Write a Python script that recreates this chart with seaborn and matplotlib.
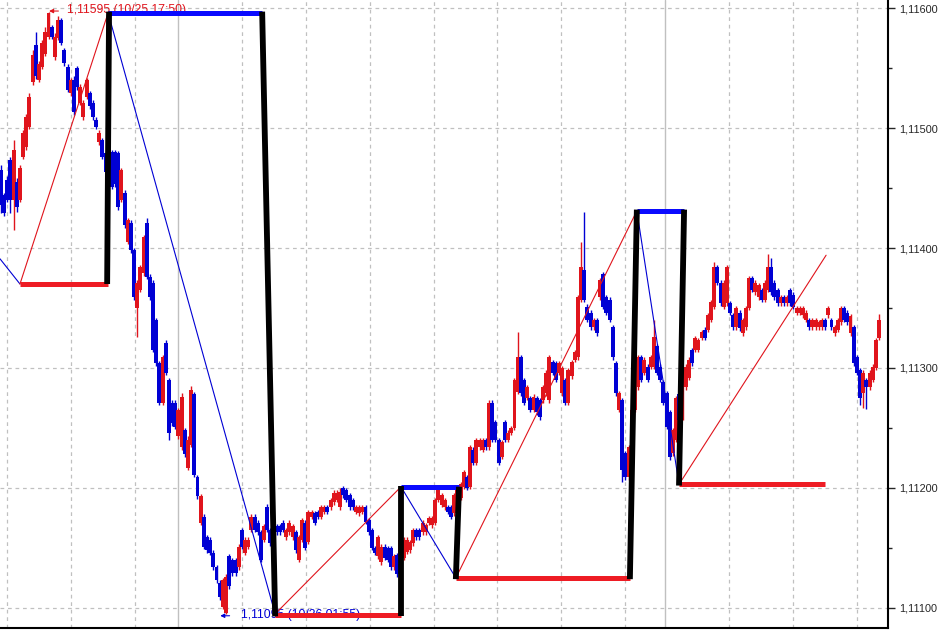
import numpy as np
import matplotlib
matplotlib.use("Agg")
import matplotlib.pyplot as plt
import seaborn as sns

sns.set_style("white")
plt.rcParams['font.family'] = ['Liberation Sans', 'DejaVu Sans']

# prices in points above 1.11000 (1 point = 0.00001)
opens = [465,444,457,473,440,455,440,476,484,501,
         538,569,540,551,562,576,584,559,575,590,
         565,551,529,540,550,521,509,526,529,521,
         507,488,490,479,457,480,480,479,440,446,
         405,421,398,350,365,379,421,376,371,340,
         304,271,321,290,271,271,243,234,248,217,
         236,278,209,171,176,159,157,146,134,121,
         101,96,143,140,140,134,165,146,151,165,
         176,171,163,157,184,165,157,168,168,171,
         159,163,159,163,140,157,171,155,176,179,
         180,176,180,184,184,188,190,184,200,198,
         194,190,180,179,180,184,173,165,150,143,
         138,151,150,150,134,144,142,142,147,148,
         154,165,165,163,163,171,169,171,190,186,
         184,184,184,179,182,192,201,209,201,232,
         221,234,232,240,234,271,255,240,226,255,
         240,246,250,280,309,290,275,275,265,275,
         273,273,279,273,305,304,296,279,290,271,
         293,307,309,357,382,351,346,334,340,359,
         378,359,357,334,304,265,273,229,209,234,
         265,284,309,296,301,301,301,318,301,288,
         279,263,229,240,278,259,284,292,315,315,
         315,325,332,332,340,351,384,371,351,354,
         354,344,334,346,329,334,350,375,363,359,
         365,357,365,384,371,365,354,359,354,365,
         361,346,346,344,340,340,334,334,334,334,
         340,344,340,329,332,338,350,346,329,334,
         309,298,279,290,284,290,300,325]
closes = [436,429,440,440,482,434,467,496,509,526,
          561,543,553,571,580,596,576,576,590,571,
          554,532,540,513,534,534,521,540,518,509,
          501,496,476,463,473,451,453,434,465,419,
          423,398,359,371,384,409,376,359,315,304,
          271,309,296,246,254,251,265,276,228,240,
          282,211,193,193,151,148,146,134,123,109,
          123,126,118,129,129,151,151,157,157,176,
          165,163,140,168,165,154,169,163,163,165,
          165,171,168,148,159,173,150,180,180,171,
          176,184,184,180,190,196,196,197,194,190,
          184,184,184,184,184,172,163,150,146,159,
          151,142,140,134,143,128,157,157,157,155,
          165,159,159,171,169,175,175,190,198,194,
          190,180,176,194,198,203,213,200,234,221,
          240,240,240,234,271,240,240,221,238,240,
          246,250,290,309,279,271,284,265,276,263,
          259,284,296,309,296,290,304,300,271,298,
          305,313,359,384,357,340,334,340,329,373,
          351,346,340,309,279,279,215,209,234,265,
          290,309,290,307,290,309,326,296,290,271,
          251,226,248,275,257,296,301,307,304,325,
          323,330,325,344,355,384,371,354,371,384,
          346,334,350,333,340,350,375,365,371,369,
          357,371,384,363,359,354,359,354,359,354,
          351,350,350,350,346,334,340,340,338,340,
          334,350,334,334,340,350,340,338,343,304,
          296,275,296,284,296,301,323,340]
highs = [469,446,460,476,490,458,469,498,512,529,
         565,580,556,573,584,597,586,579,593,592,
         567,553,542,543,552,537,523,542,531,523,
         509,498,492,481,476,482,482,481,467,448,
         425,423,400,373,386,411,425,378,373,342,
         306,311,323,292,273,273,267,279,250,243,
         285,280,211,195,178,161,159,148,136,123,
         125,128,145,142,142,153,167,159,159,178,
         178,173,165,170,187,167,171,170,170,173,
         167,173,170,165,161,175,173,182,182,181,
         182,186,186,186,192,198,198,200,202,200,
         196,192,186,186,186,186,175,167,152,161,
         153,153,152,152,145,146,159,159,159,157,
         167,167,167,173,171,177,177,192,200,196,
         192,186,186,196,200,205,215,211,236,234,
         242,242,242,242,273,273,257,242,240,257,
         248,252,292,330,311,292,286,277,278,277,
         275,286,298,311,307,306,306,302,292,300,
         307,315,361,405,430,353,348,342,342,375,
         380,361,359,336,306,281,275,231,236,267,
         292,311,311,309,303,311,340,320,303,290,
         281,265,250,277,280,298,303,309,317,327,
         325,332,334,346,357,388,386,373,373,386,
         356,346,352,348,342,352,377,377,373,371,
         367,373,395,392,373,367,361,361,361,367,
         363,352,352,352,348,342,342,342,340,342,
         342,352,342,336,342,352,352,348,345,336,
         311,300,298,292,298,303,325,345]
lows = [429,427,438,429,415,430,438,474,482,499,
        536,541,538,549,560,574,574,557,573,569,
        552,530,527,511,532,519,507,524,516,507,
        499,486,474,461,455,449,451,432,438,417,
        403,396,357,326,363,377,374,357,313,302,
        269,269,294,240,252,249,241,232,226,215,
        234,209,191,169,149,146,144,132,121,107,
        99,95,116,127,127,132,149,144,149,163,
        163,161,138,155,163,152,155,161,161,163,
        157,161,157,146,138,155,148,153,174,169,
        174,174,178,178,182,186,188,182,192,188,
        182,182,178,177,178,170,161,148,144,141,
        136,140,138,132,132,126,140,140,145,146,
        152,157,157,161,161,169,167,169,188,184,
        182,178,174,177,180,190,199,198,199,219,
        219,232,230,232,232,238,238,219,224,238,
        238,244,248,278,277,269,273,263,263,261,
        257,271,277,271,294,288,294,277,269,269,
        291,305,307,355,355,338,332,332,327,357,
        349,344,338,307,277,263,205,207,207,232,
        263,282,288,294,288,299,299,294,288,269,
        249,223,227,238,255,257,282,290,302,313,
        313,323,323,330,338,349,369,352,349,352,
        344,332,332,331,327,332,348,363,361,357,
        355,355,363,361,357,352,352,352,352,352,
        349,344,344,342,338,332,332,332,332,332,
        332,342,332,327,330,336,338,336,327,302,
        294,269,267,266,282,288,298,323]

# zigzag pivots: (bar, points)
zz_bars = [-0.3, 6.0, 33.8, 86.5, 126.2, 143.5, 200.6, 213.9, 260.3]
zz_pts = [391, 370, 596, 95, 201, 125, 431, 203, 394]

# support (red) / resistance (blue) levels: (start bar, end bar, points)
low_lines = [(6.0, 33.8, 370), (86.5, 126.2, 94), (143.5, 198.4, 125), (213.9, 260.0, 203)]
high_lines = [(33.8, 82.4, 596), (126.2, 144.5, 201), (200.6, 215.5, 431)]
# black connectors: (bar0, pts0, bar1, pts1)
connectors = [(33.5, 370, 34.1, 597), (82.4, 597, 86.5, 93), (126.2, 93, 126.2, 202),
              (144.5, 201, 143.5, 124), (198.4, 124, 200.6, 432), (215.5, 432, 213.9, 202)]

grid_bars = [1.9, 22.1, 42.3, 76.0, 96.2, 116.4, 136.6, 156.5, 176.7, 196.9, 229.7, 249.9, 270.1]
day_bars = [55.9, 209.5]
major_ticks = [1.111, 1.112, 1.113, 1.114, 1.115, 1.116]
minor_ticks = [1.1115, 1.1125, 1.1135, 1.1145, 1.1155]

RED = "#e0141c"
BLUE = "#0000d4"

def px(p):
    return 1.11 + np.asarray(p, dtype=float) / 1e5

o = px(opens)
c = px(closes)
h = px(highs)
l = px(lows)
n = len(o)
idx = np.arange(n)
up = c >= o
cols = np.where(up, RED, BLUE)

fig = plt.figure(figsize=(9.42, 6.31), dpi=100)
ax = fig.add_axes([0, 3 / 631, 888 / 942, 628 / 631])

# grid
for v in major_ticks:
    ax.axhline(v, color="#c0c0c0", lw=0.9, ls=(0, (3, 3)), zorder=0)
for b in grid_bars:
    ax.axvline(b, color="#c0c0c0", lw=0.9, ls=(0, (3, 3)), zorder=0)
for b in day_bars:
    ax.axvline(b, color="#c0c0c0", lw=1.0, zorder=0)

# candles
ax.vlines(idx, l, h, colors=cols, lw=1.0, zorder=2)
body = np.where(np.abs(c - o) < 1e-6, 0.8e-5, c - o)
ax.bar(idx, body, bottom=o, width=1.25, color=cols, linewidth=0, zorder=3)

# annotations
ax.annotate("", xy=(14.3, px(597.5)), xytext=(19.0, px(597.5)),
            arrowprops=dict(arrowstyle="-|>", color=RED, lw=0.8, mutation_scale=6), zorder=4)
ax.text(20.7, px(598.5), "1,11595 (10/25 17:50)", color=RED, fontsize=8.8,
        va="center", ha="left", zorder=4)
ax.annotate("", xy=(68.3, px(93.5)), xytext=(73.0, px(93.5)),
            arrowprops=dict(arrowstyle="-|>", color=BLUE, lw=0.8, mutation_scale=6), zorder=4)
ax.text(75.6, px(94.5), "1,11095 (10/26 01:55)", color=BLUE, fontsize=8.8,
        va="center", ha="left", zorder=4)

# zigzag
for i in range(len(zz_bars) - 1):
    col = RED if zz_pts[i + 1] > zz_pts[i] else BLUE
    sns.lineplot(x=zz_bars[i:i + 2], y=px(zz_pts[i:i + 2]), color=col, lw=0.8,
                 sort=False, ax=ax, zorder=5)

for b0, b1, p in low_lines:
    ax.plot([b0, b1], [px(p), px(p)], color="#ee1c24", lw=3.6, solid_capstyle="butt", zorder=6)
for b0, b1, p in high_lines:
    ax.plot([b0, b1], [px(p), px(p)], color="#0a0aff", lw=3.6, solid_capstyle="butt", zorder=6)
for b0, p0, b1, p1 in connectors:
    ax.plot([b0, b1], [px(p0), px(p1)], color="black", lw=4.2, solid_capstyle="butt", zorder=7)

ax.yaxis.tick_right()
ax.set_yticks(major_ticks)
ax.set_yticks(minor_ticks, minor=True)
ax.set_yticklabels([f"{v:.5f}".replace(".", ",") for v in major_ticks], fontsize=7.8)
ax.tick_params(axis="y", which="major", direction="out", length=5, width=1, pad=3, right=True, left=False)
ax.tick_params(axis="y", which="minor", direction="out", length=3, width=1, right=True, left=False)
ax.set_xticks([])
ax.set_xlabel("")
ax.set_ylabel("")

ax.set_xlim(-0.3, -0.3 + 888 / 3.17)
ax.set_ylim(px(83.3), px(606.7))

for s in ["top", "left"]:
    ax.spines[s].set_visible(False)
for s in ["right", "bottom"]:
    ax.spines[s].set_color("black")
    ax.spines[s].set_linewidth(1.5)

fig.savefig("out.png", dpi=100)
